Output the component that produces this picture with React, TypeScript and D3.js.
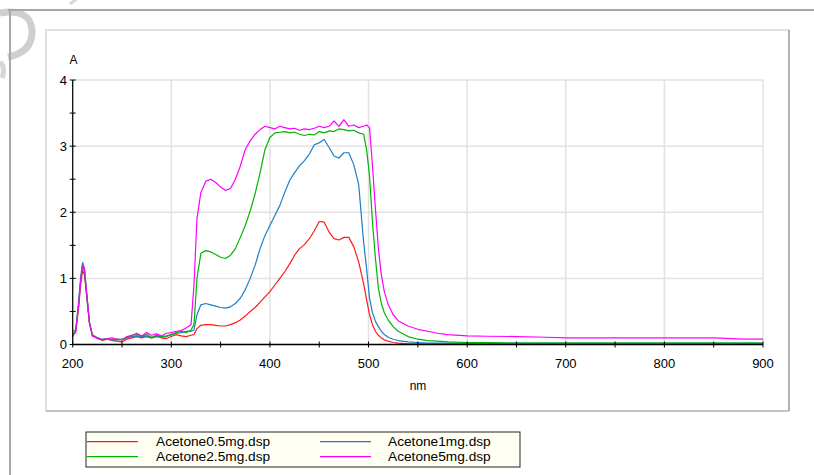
import React from "react";
import * as d3 from "d3";

const wavelengths = [
  200, 203, 206, 208, 210, 212, 214, 217, 220, 225, 230, 235, 240, 245, 250, 255, 260, 265, 270, 275,
  280, 285, 290, 295, 300, 305, 310, 315, 320, 323, 326, 330, 335, 340, 345, 350, 355, 360, 365, 370,
  375, 380, 385, 390, 395, 400, 405, 410, 415, 420, 425, 430, 435, 440, 445, 450, 455, 460, 465, 470,
  475, 480, 485, 490, 495, 498, 501, 504, 507, 510, 513, 516, 520, 525, 530, 540, 550, 560, 570, 580,
  600, 620, 650, 680, 700, 750, 800, 850, 880, 900,
];

const acetone05 = [
  0.15, 0.18, 0.55, 0.9, 1.12, 1.05, 0.75, 0.32, 0.13, 0.1, 0.06, 0.08, 0.06, 0.05, 0.04, 0.08, 0.1, 0.12, 0.1, 0.12,
  0.1, 0.13, 0.1, 0.09, 0.12, 0.15, 0.13, 0.12, 0.14, 0.15, 0.24, 0.29, 0.3, 0.3, 0.29, 0.28, 0.28, 0.3, 0.33, 0.37,
  0.43, 0.5, 0.56, 0.64, 0.72, 0.8, 0.9, 1.0, 1.1, 1.22, 1.35, 1.45, 1.51, 1.6, 1.72, 1.86, 1.85, 1.7, 1.6, 1.58,
  1.62, 1.62, 1.48, 1.25, 0.92, 0.68, 0.45, 0.3, 0.2, 0.14, 0.1, 0.07, 0.05, 0.03, 0.02, 0.01, 0.01, 0.01, 0.01, 0.01,
  0.01, 0.01, 0.01, 0.01, 0.01, 0.01, 0.01, 0.01, 0.01, 0.01,
];

const acetone1 = [
  0.12, 0.2, 0.65, 1.0, 1.24, 1.15, 0.8, 0.33, 0.13, 0.09, 0.07, 0.08, 0.07, 0.07, 0.08, 0.1, 0.12, 0.13, 0.12, 0.13,
  0.1, 0.12, 0.11, 0.12, 0.15, 0.17, 0.18, 0.2, 0.2, 0.22, 0.45, 0.6, 0.62, 0.6, 0.58, 0.56, 0.55, 0.57, 0.62, 0.7,
  0.83, 1.0, 1.2, 1.45, 1.65, 1.8, 1.95, 2.1, 2.3, 2.48, 2.6, 2.7, 2.78, 2.88, 3.02, 3.05, 3.1, 2.98, 2.85, 2.82,
  2.9, 2.9, 2.72, 2.42, 1.55, 1.15, 0.7, 0.48, 0.35, 0.27, 0.2, 0.15, 0.11, 0.08, 0.06, 0.04, 0.03, 0.02, 0.02, 0.02,
  0.02, 0.02, 0.02, 0.02, 0.02, 0.02, 0.02, 0.02, 0.02, 0.02,
];

const acetone25 = [
  0.2, 0.22, 0.6, 0.95, 1.2, 1.1, 0.78, 0.33, 0.15, 0.1, 0.08, 0.09, 0.07, 0.08, 0.07, 0.1, 0.14, 0.15, 0.13, 0.15,
  0.11, 0.14, 0.12, 0.13, 0.15, 0.18, 0.2, 0.18, 0.22, 0.3, 1.0, 1.38, 1.42, 1.4, 1.36, 1.32, 1.3, 1.35, 1.45, 1.62,
  1.8, 2.02, 2.28, 2.6, 2.95, 3.13, 3.2, 3.21, 3.22, 3.2, 3.21, 3.18, 3.16, 3.18, 3.17, 3.22, 3.2, 3.23, 3.22, 3.26,
  3.25, 3.23, 3.24, 3.2, 3.18, 2.95, 2.55, 1.85, 1.3, 0.85, 0.62, 0.48, 0.37, 0.27, 0.2, 0.12, 0.08, 0.06, 0.05, 0.04,
  0.03, 0.03, 0.02, 0.02, 0.02, 0.02, 0.02, 0.02, 0.02, 0.02,
];

const acetone5 = [
  0.15, 0.2, 0.6, 0.95, 1.2, 1.12, 0.8, 0.33, 0.13, 0.1, 0.07, 0.09, 0.1, 0.08, 0.07, 0.12, 0.14, 0.17, 0.13, 0.18,
  0.14, 0.16, 0.13, 0.17, 0.18, 0.2, 0.21, 0.25, 0.3, 0.9, 1.9, 2.3, 2.47, 2.5, 2.45, 2.38, 2.33, 2.36, 2.5, 2.7,
  2.95, 3.08, 3.18, 3.25, 3.3, 3.28, 3.26, 3.3, 3.28, 3.26, 3.27, 3.24, 3.26, 3.25, 3.27, 3.3, 3.28, 3.3, 3.38, 3.3,
  3.4, 3.3, 3.32, 3.28, 3.3, 3.32, 3.28, 2.7, 2.05, 1.45, 1.05, 0.8, 0.6, 0.45, 0.36, 0.28, 0.23, 0.2, 0.17, 0.15,
  0.13, 0.125, 0.12, 0.11, 0.1, 0.1, 0.1, 0.1, 0.08, 0.08,
];

const seriesNames = ["Acetone0.5mg.dsp", "Acetone1mg.dsp", "Acetone2.5mg.dsp", "Acetone5mg.dsp"];
const seriesValues = [acetone05, acetone1, acetone25, acetone5];
const seriesColors = ["#ff1a1a", "#1a7ec8", "#00b400", "#ff00ff"];

const xTickLabels = [200, 300, 400, 500, 600, 700, 800, 900];
const yTickLabels = [0, 1, 2, 3, 4];

const FONT = "'Liberation Sans', Arial, sans-serif";

export default function App() {
  const x = d3.scaleLinear().domain([200, 900]).range([72.7, 763]);
  const y = d3.scaleLinear().domain([0, 4]).range([344.5, 80]);
  const line = d3
    .line<number>()
    .x((_, i) => x(wavelengths[i]))
    .y((d) => y(d));

  const xMinor = d3.range(200, 901, 50);
  const yMinor = d3.range(0, 4.01, 0.5);

  const legendItems = seriesNames.map((name, i) => ({
    name,
    color: seriesColors[i],
    col: i % 2,
    row: Math.floor(i / 2),
  }));

  return (
    <svg
      width={814}
      height={475}
      style={{ position: "absolute", left: 0, top: 0, background: "#fff" }}
      fontFamily={FONT}
    >
      <rect x={0} y={0} width={814} height={475} fill="#fff" />
      {/* watermark */}
      <path d="M 0 13 Q 30 8 32 30 Q 33 52 8 57" fill="none" stroke="#cfcfcf" strokeWidth={7} />
      <path d="M 0 62 Q 6 68 2 78" fill="none" stroke="#d6d6d6" strokeWidth={5} />
      <path d="M 70 4 L 78 -2" fill="none" stroke="#d8d8d8" strokeWidth={3} />
      {/* outer frame */}
      <line x1={8} x2={814} y1={10} y2={10} stroke="#a8a8a8" strokeWidth={2} />
      <line x1={10} x2={10} y1={10} y2={475} stroke="#a8a8a8" strokeWidth={2} />
      {/* inner panel */}
      <rect x={46} y={30} width={743} height={381} fill="#fff" stroke="#c4c4c4" strokeWidth={1} />
      <line x1={789} x2={789} y1={30} y2={411} stroke="#a0a0a0" strokeWidth={1.5} />
      <line x1={46} x2={789} y1={411} y2={411} stroke="#b8b8b8" strokeWidth={1.5} />

      {/* grid */}
      {xTickLabels.map((t) => (
        <line key={"gx" + t} x1={x(t)} x2={x(t)} y1={y(4)} y2={y(0)} stroke="#e2e2e2" strokeWidth={1.5} />
      ))}
      {yTickLabels.map((t) => (
        <line key={"gy" + t} x1={x(200)} x2={x(900)} y1={y(t)} y2={y(t)} stroke="#e2e2e2" strokeWidth={1.5} />
      ))}

      {/* series */}
      {seriesValues.map((vals, i) => (
        <path key={"s" + i} d={line(vals) || ""} fill="none" stroke={seriesColors[i]} strokeWidth={1.2} strokeLinejoin="round" />
      ))}

      {/* axes */}
      <line x1={x(200)} x2={x(200)} y1={y(4)} y2={y(0)} stroke="#000" strokeWidth={1.2} />
      <line x1={x(200)} x2={x(900)} y1={y(0)} y2={y(0)} stroke="#000" strokeWidth={1.5} />
      {yMinor.map((t) => (
        <line key={"ty" + t} x1={x(200) - 3} x2={x(200) + 3} y1={y(t)} y2={y(t)} stroke="#000" strokeWidth={1} />
      ))}
      {xMinor.map((t) => (
        <line key={"tx" + t} x1={x(t)} x2={x(t)} y1={y(0) - 3} y2={y(0) + 3} stroke="#000" strokeWidth={1} />
      ))}
      {yTickLabels.map((t) => (
        <text key={"ly" + t} x={67} y={y(t)} dy="0.35em" textAnchor="end" fontSize={13} fill="#000">
          {t}
        </text>
      ))}
      {xTickLabels.map((t) => (
        <text key={"lx" + t} x={x(t)} y={368} textAnchor="middle" fontSize={13} fill="#000">
          {t}
        </text>
      ))}
      <text x={73.5} y={64} textAnchor="middle" fontSize={12} fill="#000">
        A
      </text>
      <text x={418} y={390} textAnchor="middle" fontSize={12} fill="#000">
        nm
      </text>

      {/* legend */}
      <rect x={86} y={432} width={434} height={35} fill="#fffff4" stroke="#222" strokeWidth={1} />
      {legendItems.map((it) => {
        const lx = it.col === 0 ? 87 : 320;
        const tx = it.col === 0 ? 156 : 388;
        const ly = it.row === 0 ? 441.7 : 456.7;
        return (
          <g key={it.name}>
            <line x1={lx} x2={lx + 51} y1={ly} y2={ly} stroke={it.color} strokeWidth={1.2} />
            <text x={tx} y={ly} dy="0.35em" fontSize={13.7} fill="#000">
              {it.name}
            </text>
          </g>
        );
      })}
    </svg>
  );
}
